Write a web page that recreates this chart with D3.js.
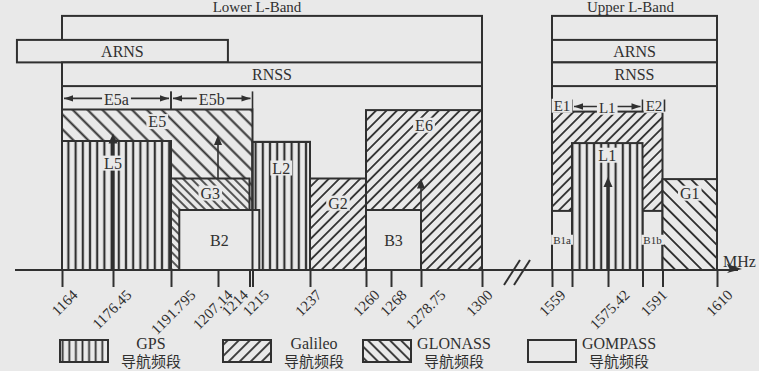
<!DOCTYPE html>
<html>
<head>
<meta charset="utf-8">
<script src="https://cdn.jsdelivr.net/npm/d3@7"></script>
<style>
  html, body { margin: 0; padding: 0; background: #e9e9e9; }
  svg { display: block; }
</style>
</head>
<body>
<svg id="chart" width="759" height="371"></svg>
<script>
// ---------- data ----------
// frequency ticks on the axis (MHz) and their labels
const tickFreqs  = [1164, 1176.45, 1191.795, 1207.14, 1214, 1215, 1237, 1260, 1268, 1278.75, 1300,
                    1559, 1563.144, 1575.42, 1587.696, 1591, 1610];
const tickLabels = ["1164", "1176.45", "1191.795", "1207.14", "1214", "1215", "1237", "1260", "1268", "1278.75", "1300",
                    "1559", "", "1575.42", "", "1591", "1610"];

// signal blocks (drawn in this order)
const blockNames   = ["E5", "L5", "G3", "L2", "B2", "G2", "E6", "B3", "E1E2", "B1a", "B1b", "L1", "G1"];
const blockSystems = ["Galileo", "GPS", "GLONASS", "GPS", "COMPASS", "GLONASS", "Galileo", "COMPASS",
                      "Galileo", "COMPASS", "COMPASS", "GPS", "GLONASS"];
const blockStart   = [1164, 1164, 1191.795, 1215, 1194.5, 1237, 1260, 1260, 1559, 1559, 1587.696, 1563.144, 1591];
const blockEnd     = [1215, 1191.795, 1214, 1237, 1217.6, 1260, 1300, 1278.75, 1591, 1563.144, 1591, 1587.696, 1610];
const blockHeight  = [5.35, 4.3, 3.05, 4.27, 2, 3.05, 5.33, 2, 5.28, 1.97, 1.97, 4.23, 3.03];
const blockLabels  = ["E5", "L5", "G3", "L2", "B2", "G2", "E6", "B3", "", "B1a", "B1b", "L1", "G1"];

// L-band frames and service rows
const bandNames  = ["Lower L-Band", "Upper L-Band"];
const bandStart  = [1164, 1559];
const bandEnd    = [1300, 1610];
const bandTop    = 8.47;
const serviceNames  = ["ARNS", "RNSS", "ARNS", "RNSS"];
const serviceStart  = [1153, 1164, 1559, 1559];
const serviceEnd    = [1209.3, 1300, 1610, 1610];
const serviceTop    = [7.67, 6.92, 7.67, 6.92];
const serviceBottom = [6.92, 6.13, 6.92, 6.13];

// sub-band dimension markers
const dimNames  = ["E5a", "E5b", "L1"];
const dimStart  = [1164, 1191.795, 1563.144];
const dimEnd    = [1191.795, 1215, 1587.696];
const dimLevel  = [5.72, 5.72, 5.45];
const edgeNames = ["E1", "E2"];
const edgeStart = [1559, 1587.696];
const edgeEnd   = [1563.144, 1591];

// carrier arrows
const carrierFreqs = [1176.45, 1207.14, 1278.75, 1575.42];
const carrierFrom  = [0, 3.05, 2, 0];
const carrierTo    = [4.55, 4.5, 3.05, 3.1];

// legend
const legendSystems = ["GPS", "Galileo", "GLONASS", "COMPASS"];
const legendNames   = ["GPS", "Galileo", "GLONASS", "GOMPASS"];
const legendSub     = "导航频段";

// ---------- layout & style ----------
const bg = "#e9e9e9", ink = "#303030";
const serif = "'Liberation Serif', 'Times New Roman', serif";
const cjk = "'Liberation Serif', 'Noto Sans CJK SC', sans-serif";

// schematic frequency axis: every tick has its own slot
const tickSlots = [62, 113, 171, 218, 249.5, 252.5, 310, 366, 391, 421, 482, 552, 572, 608, 642.5, 662.5, 717];
const x = d3.scaleLinear().domain(tickFreqs).range(tickSlots);
const y = d3.scaleLinear().domain([0, 8.5]).range([270, 15]);

// hatch style of each block
const blockHatch = { E5: "backWide", L5: "gps", G3: "backDense", L2: "gps", B2: null, G2: "fwd", E6: "fwd",
                     B3: null, E1E2: "fwd", B1a: null, B1b: null, L1: "gps", G1: "backMid" };
const legendHatch = { GPS: "gpsLeg", Galileo: "fwdLeg", GLONASS: "backLeg", COMPASS: null };
// label centre offset below the block top (px) and font size
const labelDy   = { E5: 12, L5: 22, G3: 14.5, L2: 26, B2: 30, G2: 24.5, E6: 15, B3: 30, B1a: 29, B1b: 29, L1: 12, G1: 14 };
const labelSize = { B1a: 11, B1b: 11 };
const tickLabelDx = { "1164": 16, "1176.45": 19, "1191.795": 25, "1207.14": 15, "1214": -1, "1215": 17,
                      "1237": 12, "1260": 14, "1268": 16, "1278.75": 25, "1300": 11, "1559": 14,
                      "1575.42": 22, "1591": 5, "1610": 16 };
const titleDx = [-15, -4];
const legendX = [60, 223, 363, 528];

const svg = d3.select("#chart");
svg.append("rect").attr("width", 759).attr("height", 371).attr("fill", bg);

// ---------- hatch patterns ----------
const defs = svg.append("defs");
function hatch(id, spacing, angle, width) {
  const p = defs.append("pattern").attr("id", id)
    .attr("patternUnits", "userSpaceOnUse")
    .attr("width", spacing).attr("height", spacing)
    .attr("patternTransform", `rotate(${angle})`);
  p.append("rect").attr("width", spacing).attr("height", spacing).attr("fill", bg);
  p.append("line").attr("x1", spacing / 2).attr("x2", spacing / 2)
    .attr("y1", -1).attr("y2", spacing + 1)
    .attr("stroke", ink).attr("stroke-width", width);
}
hatch("gps", 7.2, 0, 2.2);
hatch("fwd", 7.4, 45, 1.8);
hatch("backWide", 10.5, -45, 2);
hatch("backDense", 6, -45, 1.6);
hatch("backMid", 9.4, -45, 1.9);
hatch("gpsLeg", 6.6, 0, 1.8);
hatch("fwdLeg", 7.8, 45, 1.8);
hatch("backLeg", 7.8, -45, 1.8);

// text with a background patch so hatching stops around it
function maskedText(g, tx, ty, str, size, anchor) {
  const grp = g.append("g");
  const r = grp.append("rect").attr("fill", bg);
  const t = grp.append("text").attr("x", tx).attr("y", ty).attr("dy", "0.35em")
    .attr("text-anchor", anchor || "middle")
    .attr("font-family", serif).attr("font-size", size).attr("fill", ink).text(str);
  const b = t.node().getBBox();
  r.attr("x", b.x - 2).attr("y", b.y + 1).attr("width", b.width + 4).attr("height", b.height - 2);
  return grp;
}

// ---------- band frames and service rows ----------
const frames = svg.append("g").attr("fill", "none").attr("stroke", ink).attr("stroke-width", 2);
bandNames.forEach((name, i) => {
  frames.append("rect")
    .attr("x", x(bandStart[i])).attr("y", y(bandTop))
    .attr("width", x(bandEnd[i]) - x(bandStart[i])).attr("height", y(0) - y(bandTop));
  svg.append("text")
    .attr("x", (x(bandStart[i]) + x(bandEnd[i])) / 2 + titleDx[i]).attr("y", 12)
    .attr("text-anchor", "middle").attr("font-family", serif).attr("font-size", 15).attr("fill", ink)
    .text(name);
});
serviceNames.forEach((name, i) => {
  const x0 = x(serviceStart[i]), x1 = x(serviceEnd[i]);
  svg.append("rect")
    .attr("x", x0).attr("y", y(serviceTop[i]))
    .attr("width", x1 - x0).attr("height", y(serviceBottom[i]) - y(serviceTop[i]))
    .attr("fill", bg).attr("stroke", ink).attr("stroke-width", 2);
  svg.append("text")
    .attr("x", (x0 + x1) / 2).attr("y", (y(serviceTop[i]) + y(serviceBottom[i])) / 2).attr("dy", "0.35em")
    .attr("text-anchor", "middle").attr("font-family", serif).attr("font-size", 16).attr("fill", ink)
    .text(name);
});

// ---------- signal blocks ----------
const blocks = svg.append("g");
blockNames.forEach((name, i) => {
  const h = blockHatch[name];
  blocks.append("rect")
    .attr("x", x(blockStart[i])).attr("y", y(blockHeight[i]))
    .attr("width", x(blockEnd[i]) - x(blockStart[i])).attr("height", y(0) - y(blockHeight[i]))
    .attr("fill", h ? `url(#${h})` : bg)
    .attr("stroke", ink).attr("stroke-width", 2)
    .attr("data-system", blockSystems[i]);
});
// L2 outline stays on top of the overlapping B2 block
{
  const i = blockNames.indexOf("L2");
  blocks.append("rect")
    .attr("x", x(blockStart[i])).attr("y", y(blockHeight[i]))
    .attr("width", x(blockEnd[i]) - x(blockStart[i])).attr("height", y(0) - y(blockHeight[i]))
    .attr("fill", "none").attr("stroke", ink).attr("stroke-width", 2);
}

// ---------- carrier arrows ----------
const arrows = svg.append("g");
const carrierWidth = [3.4, 1.6, 1.6, 3.4];
carrierFreqs.forEach((f, i) => {
  const cx = x(f), y0 = y(carrierFrom[i]), y1 = y(carrierTo[i]);
  const hw = carrierWidth[i] > 2 ? 4.5 : 4, hl = 10;
  arrows.append("line").attr("x1", cx).attr("x2", cx).attr("y1", y0).attr("y2", y1 + hl - 1)
    .attr("stroke", ink).attr("stroke-width", carrierWidth[i]);
  arrows.append("path").attr("d", `M${cx},${y1}L${cx - hw},${y1 + hl}L${cx + hw},${y1 + hl}Z`).attr("fill", ink);
});

// ---------- block labels ----------
const labels = svg.append("g");
blockNames.forEach((name, i) => {
  if (!blockLabels[i]) return;
  const cx = name === "L5" ? x(1176.45) : (x(blockStart[i]) + x(blockEnd[i])) / 2;
  maskedText(labels, cx, y(blockHeight[i]) + labelDy[name], blockLabels[i], labelSize[name] || 16);
});

// ---------- sub-band dimension markers ----------
const dims = svg.append("g");
function arrowHead(g, tipX, yy, dir) {
  g.append("path").attr("d", `M${tipX},${yy}L${tipX - dir * 9},${yy - 3.2}L${tipX - dir * 9},${yy + 3.2}Z`).attr("fill", ink);
}
dimNames.forEach((name, i) => {
  const x0 = x(dimStart[i]), x1 = x(dimEnd[i]), yy = y(dimLevel[i]);
  const blockTop = yy + (dimLevel[i] > 5.6 ? 10.5 : 5.5);
  dims.append("line").attr("x1", x0 + 2).attr("x2", x1 - 2).attr("y1", yy).attr("y2", yy)
    .attr("stroke", ink).attr("stroke-width", 1.6);
  arrowHead(dims, x0 + 2, yy, -1);
  arrowHead(dims, x1 - 2, yy, 1);
  [x0, x1].forEach(xx => {
    dims.append("line").attr("x1", xx).attr("x2", xx).attr("y1", yy - 7).attr("y2", blockTop)
      .attr("stroke", ink).attr("stroke-width", 1.6);
  });
  maskedText(dims, (x0 + x1) / 2, yy + 1, name, name === "L1" ? 15 : 16);
});
edgeNames.forEach((name, i) => {
  const cx = (x(edgeStart[i]) + x(edgeEnd[i])) / 2 + (i === 1 ? 1.5 : 0);
  maskedText(dims, cx, y(5.45) - 1, name, 15);
});
// short edge mark after E2
dims.append("line").attr("x1", x(1591) + 2).attr("x2", x(1591) + 2)
  .attr("y1", y(5.45) - 7).attr("y2", y(5.28)).attr("stroke", ink).attr("stroke-width", 1.6);

// ---------- frequency axis ----------
const axis = d3.axisBottom(x).tickValues(tickFreqs).tickSize(17).tickSizeOuter(0)
  .tickFormat((d, i) => tickLabels[i]);
const gx = svg.append("g").attr("transform", `translate(0,${y(0)})`).call(axis);
gx.select(".domain").remove();
gx.attr("font-family", serif).attr("font-size", 15);
gx.selectAll(".tick line").attr("stroke", ink).attr("stroke-width", 2);
gx.selectAll(".tick text")
  .attr("fill", ink).attr("text-anchor", "end")
  .attr("x", 0).attr("y", 0).attr("dy", null)
  .attr("transform", (d, i) => `translate(${tickLabelDx[tickLabels[i]] || 14},26) rotate(-45)`);

// axis baseline with arrow
const axisY = y(0);
svg.append("line").attr("x1", 15).attr("x2", 738).attr("y1", axisY).attr("y2", axisY)
  .attr("stroke", ink).attr("stroke-width", 2);
svg.append("path").attr("d", `M742,${axisY - 1}L727,${axisY - 6}L730,${axisY}L727,${axisY + 3}Z`).attr("fill", ink);
svg.append("text").attr("x", 723).attr("y", axisY - 3)
  .attr("font-family", serif).attr("font-size", 16).attr("fill", ink).text("MHz");

// axis break between the two bands
const xb = (x(1300) + x(1559)) / 2;
[-5, 5].forEach(o => {
  svg.append("line").attr("x1", xb + o - 8).attr("y1", axisY + 15).attr("x2", xb + o + 8).attr("y2", axisY - 10)
    .attr("stroke", ink).attr("stroke-width", 2);
});

// ---------- legend ----------
const legend = svg.append("g");
legendNames.forEach((name, i) => {
  const lx = legendX[i], h = legendHatch[legendSystems[i]];
  legend.append("rect").attr("x", lx).attr("y", 340).attr("width", 48).attr("height", 22)
    .attr("fill", h ? `url(#${h})` : bg).attr("stroke", ink).attr("stroke-width", 2);
  const cx = lx + 48 + 43;
  legend.append("text").attr("x", cx).attr("y", 349).attr("text-anchor", "middle")
    .attr("font-family", serif).attr("font-size", 16).attr("fill", ink).text(name);
  legend.append("text").attr("x", cx).attr("y", 367).attr("text-anchor", "middle")
    .attr("font-family", cjk).attr("font-size", 15).attr("fill", ink).text(legendSub);
});
</script>
</body>
</html>
